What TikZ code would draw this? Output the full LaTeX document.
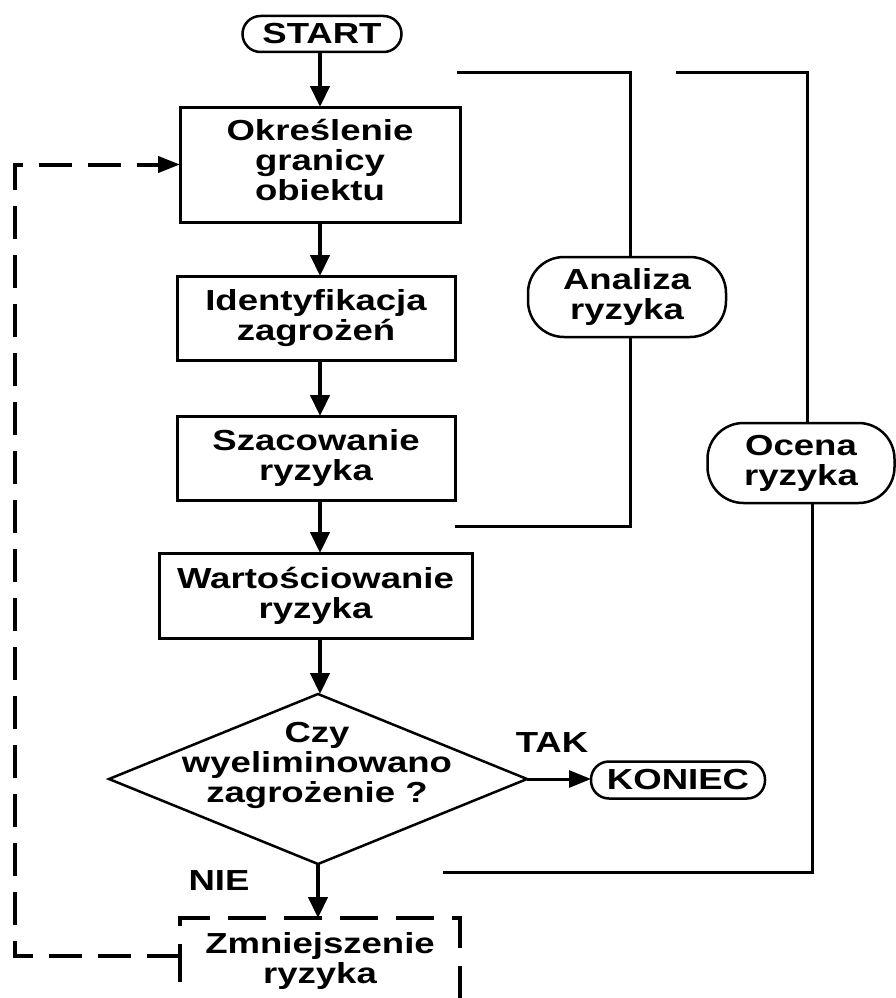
\documentclass[tikz,border=0pt]{standalone}
\usepackage{fontspec}
\setmainfont[FakeStretch=1.26]{Liberation Sans}
\usetikzlibrary{arrows.meta,shapes.geometric}
\begin{document}
\begin{tikzpicture}[x=1pt,y=-1pt,
  every node/.style={font=\fontsize{29}{30}\selectfont\bfseries, align=center, inner sep=0pt, outer sep=0pt},
  box/.style={draw, rectangle, line width=3pt},
  dbox/.style={draw, rectangle, line width=4pt, dash pattern=on 38pt off 18pt},
  pillbox/.style={draw, rectangle, rounded corners=#1, line width=2.5pt},
  conn/.style={line width=4.5pt, -{Triangle[length=21pt,width=19pt]}},
  hconn/.style={line width=3pt, -{Triangle[length=22pt,width=17pt]}},
  brk/.style={line width=3pt},
  fb/.style={line width=4pt, dash pattern=on 33pt off 16pt, -{Triangle[length=22pt,width=16pt]}},
]
\path[fill=white, use as bounding box] (0,0) rectangle (895,998);

\node[pillbox=18, minimum width=159pt, minimum height=36pt] (start) at (322,34) {START};
\node[box, minimum width=280pt, minimum height=115pt] (b1) at (320,164.5) {Określenie\\granicy\\obiektu\rule[-10pt]{0pt}{0pt}};
\node[box, minimum width=278pt, minimum height=84pt] (b2) at (316,318) {Identyfikacja\\zagrożeń};
\node[box, minimum width=278pt, minimum height=84pt] (b3) at (316,458) {Szacowanie\\ryzyka};
\node[box, minimum width=313pt, minimum height=85pt] (b4) at (315.5,595.5) {Wartościowanie\\ryzyka};
\node[draw, diamond, minimum width=418pt, minimum height=170pt, line width=2.5pt] (dec) at (318,779) {};
\node (dectext) at (317,765.5) {Czy\\wyeliminowano\\zagrożenie ?};
\node[pillbox=18, minimum width=174pt, minimum height=37pt] (end) at (678,780) {KONIEC};
\node[anchor=base] (tak) at (552,752) {TAK};
\node[anchor=base] (nie) at (219,890) {NIE};
\node[dbox, minimum width=280pt, minimum height=86pt] (z) at (320,961) {Zmniejszenie\\ryzyka};
\node[pillbox=36, minimum width=198pt, minimum height=80pt] (an) at (627,297) {Analiza\\ryzyka};
\node[pillbox=36, minimum width=187pt, minimum height=80pt] (oc) at (801,463) {Ocena\\ryzyka};

\coordinate (at) at (457,72);
\coordinate (ab) at (455,526);
\coordinate (ot) at (676,72);
\coordinate (ob) at (443,872);

% main flow
\draw[conn] (start.south -| b1.north) -- (b1.north);
\draw[conn] (b1.south) -- (b1.south |- b2.north);
\draw[conn] (b1.south |- b2.south) -- (b1.south |- b3.north);
\draw[conn] (b1.south |- b3.south) -- (b1.south |- b4.north);
\draw[conn] (b1.south |- b4.south) -- (b1.south |- dec.north);
\draw[hconn] (dec.east) -- (dec.east -| end.west);
\draw[conn] (dec.south) -- (dec.south |- z.north);

% feedback loop
\draw[fb] ([yshift=5pt]z.west) -- ++(-165,0) |- (b1.west);

% brackets
\draw[brk] (at) -| ([xshift=3pt]an.north);
\draw[brk] ([xshift=3pt]an.south) |- (ab);
\draw[brk] (ot) -| ([xshift=6pt]oc.north);
\draw[brk] ([xshift=11pt]oc.south) |- (ob);
\end{tikzpicture}
\end{document}
